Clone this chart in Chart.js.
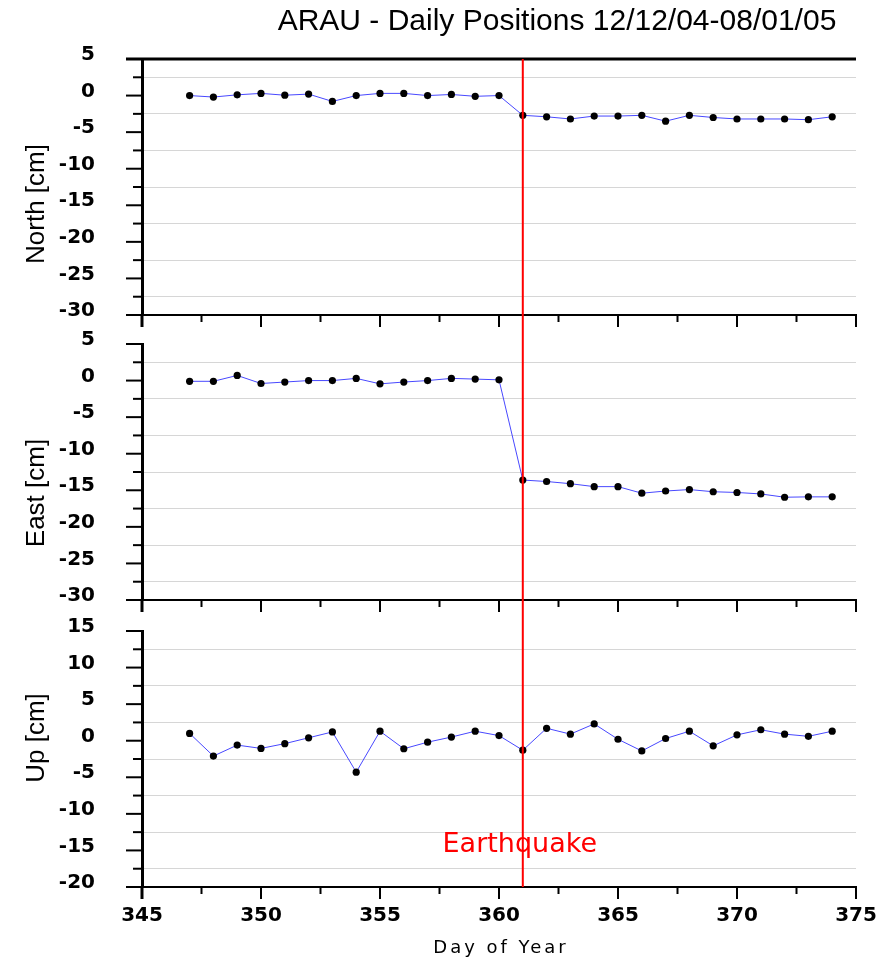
<!DOCTYPE html>
<html><head><meta charset="utf-8">
<script src="https://cdn.jsdelivr.net/npm/chart.js@4/dist/chart.umd.min.js"></script>
<style>
html,body{margin:0;padding:0;background:#fff;}
#wrap{position:relative;width:888px;height:957px;overflow:hidden;}
canvas{position:absolute;left:0;display:block;}
</style></head><body>
<div id="wrap">
<canvas id="p1" width="888" height="330" style="top:0px"></canvas>
<canvas id="p2" width="888" height="285" style="top:330px"></canvas>
<canvas id="p3" width="888" height="342" style="top:615px"></canvas>
</div>
<script>
// ---- data ----
const days = [347,348,349,350,351,352,353,354,355,356,357,358,359,360,361,362,363,364,365,366,367,368,369,370,371,372,373,374];
const north = [0,-0.2,0.1,0.3,0.05,0.2,-0.8,0,0.3,0.3,0,0.15,-0.1,0,-2.7,-2.9,-3.2,-2.8,-2.8,-2.7,-3.5,-2.7,-3.0,-3.2,-3.2,-3.2,-3.3,-2.9];
const east = [-0.1,-0.1,0.7,-0.4,-0.2,0,0,0.3,-0.45,-0.2,0,0.3,0.2,0.1,-13.6,-13.8,-14.1,-14.5,-14.5,-15.4,-15.1,-14.9,-15.2,-15.3,-15.5,-15.95,-15.9,-15.9];
const up = [1.0,-2.1,-0.6,-1.05,-0.4,0.4,1.2,-4.3,1.3,-1.1,-0.2,0.5,1.3,0.7,-1.3,1.7,0.9,2.3,0.2,-1.4,0.3,1.3,-0.7,0.8,1.5,0.9,0.6,1.3];
const xTickLabels = [345,350,355,360,365,370,375];
const northTicks = [5,0,-5,-10,-15,-20,-25,-30];
const eastTicks = [5,0,-5,-10,-15,-20,-25,-30];
const upTicks = [15,10,5,0,-5,-10,-15,-20];
const quakeDay = 361;
const titleText = 'ARAU - Daily Positions 12/12/04-08/01/05';
const xTitle = 'Day of Year';
const quakeText = 'Earthquake';

function withMinor(major){
  const s=[...major].sort((a,b)=>b-a); const out=[];
  for(let i=0;i<s.length;i++){ out.push(s[i]); if(i<s.length-1) out.push((s[i]+s[i+1])/2); }
  return out;
}
const xAll = withMinor(xTickLabels);

const decor = {
  id:'decor',
  afterDatasetsDraw(chart, args, o){
    const {ctx, chartArea:a, scales:{x,y}} = chart;
    const H = chart.height;
    ctx.save();
    ctx.strokeStyle='#000';
    const line=(x1,y1,x2,y2,w)=>{ctx.lineWidth=w;ctx.beginPath();ctx.moveTo(x1,y1);ctx.lineTo(x2,y2);ctx.stroke();};
    withMinor(o.major).forEach(v=>{
      const py=y.getPixelForValue(v); const maj=o.major.includes(v);
      line(a.left-(maj?16:9), py, a.left, py, 2);
    });
    xAll.forEach(v=>{
      const px=x.getPixelForValue(v); const maj=xTickLabels.includes(v);
      line(px, a.bottom, px, a.bottom+(maj?12:7), v===xTickLabels[0]?3:2);
    });
    if(o.topBorder){ line(a.left-16, a.top, a.right, a.top, 3); }
    const qx = x.getPixelForValue(quakeDay);
    ctx.strokeStyle='#ff0000';
    line(qx, o.first ? a.top : 0, qx, o.last ? a.bottom : H, 2);
    ctx.fillStyle='#000';
    ctx.font='26px "Liberation Sans", Arial, sans-serif';
    ctx.textAlign='center'; ctx.textBaseline='middle';
    ctx.save(); ctx.translate(37, o.titleY); ctx.rotate(-Math.PI/2); ctx.fillText(o.yTitle,0,0); ctx.restore();
    if(o.first){
      ctx.font='30px "Liberation Sans", Arial, sans-serif';
      ctx.fillText(titleText, 557, 22);
    }
    if(o.last){
      ctx.fillStyle='#ff0000';
      ctx.font='27px "DejaVu Sans", sans-serif';
      ctx.fillText(quakeText, qx-3, y.getPixelForValue(-14.2));
      ctx.fillStyle='#000';
      ctx.font='18px "DejaVu Sans", sans-serif';
      ctx.letterSpacing='3px';
      ctx.fillText(xTitle, 501, a.bottom+61);
    }
    ctx.restore();
  }
};

function panel(id, values, major, padTop, xH, showX, extra){
  const yMin=Math.min(...major), yMax=Math.max(...major);
  const all=withMinor(major);
  return new Chart(document.getElementById(id), {
    type:'line',
    data:{datasets:[{data:days.map((d,i)=>({x:d,y:values[i]})), borderColor:'#4848ff', borderWidth:1, pointRadius:3.6, pointHoverRadius:3.6, pointBackgroundColor:'#000', pointBorderColor:'#000', pointBorderWidth:0, tension:0, fill:false}]},
    options:{
      responsive:false, animation:false, events:[],
      layout:{padding:{top:padTop,right:32,left:0,bottom:0}},
      plugins:{legend:{display:false},tooltip:{enabled:false},title:{display:false},decor:Object.assign({major},extra)},
      scales:{
        x:{type:'linear',min:345,max:375,
          afterBuildTicks:s=>{s.ticks=xTickLabels.map(v=>({value:v}));},
          afterFit:s=>{s.height=xH; s.paddingLeft=0; s.paddingRight=0;},
          grid:{display:false},
          border:{display:true,color:'#000',width:2},
          ticks:{display:showX,autoSkip:false,maxRotation:0,color:'#000',padding:9,font:{family:'"DejaVu Sans", sans-serif',size:20,weight:'bold'}}
        },
        y:{type:'linear',min:yMin,max:yMax,
          afterBuildTicks:s=>{s.ticks=all.map(v=>({value:v}));},
          afterFit:s=>{s.width=142; s.paddingTop=0; s.paddingBottom=0;},
          grid:{drawTicks:true,tickLength:43,tickColor:'rgba(0,0,0,0)',lineWidth:1,color:c=>(c.tick && !major.includes(c.tick.value))?'#d6d6d6':'rgba(0,0,0,0)'},
          border:{display:true,color:'#000',width:3},
          ticks:{autoSkip:false,color:'#000',padding:4,labelOffset:-4,font:{family:'"DejaVu Sans", sans-serif',size:20,weight:'bold'},
            callback:v=>major.includes(v)?String(v):''}
        }
      }
    },
    plugins:[decor]
  });
}

panel('p1', north, northTicks, 59, 15, false, {first:true, topBorder:true, yTitle:'North [cm]', titleY:204});
panel('p2', east, eastTicks, 14, 15, false, {yTitle:'East [cm]', titleY:163});
panel('p3', up, upTicks, 16, 70, true, {last:true, yTitle:'Up [cm]', titleY:123});
</script>
</body></html>
